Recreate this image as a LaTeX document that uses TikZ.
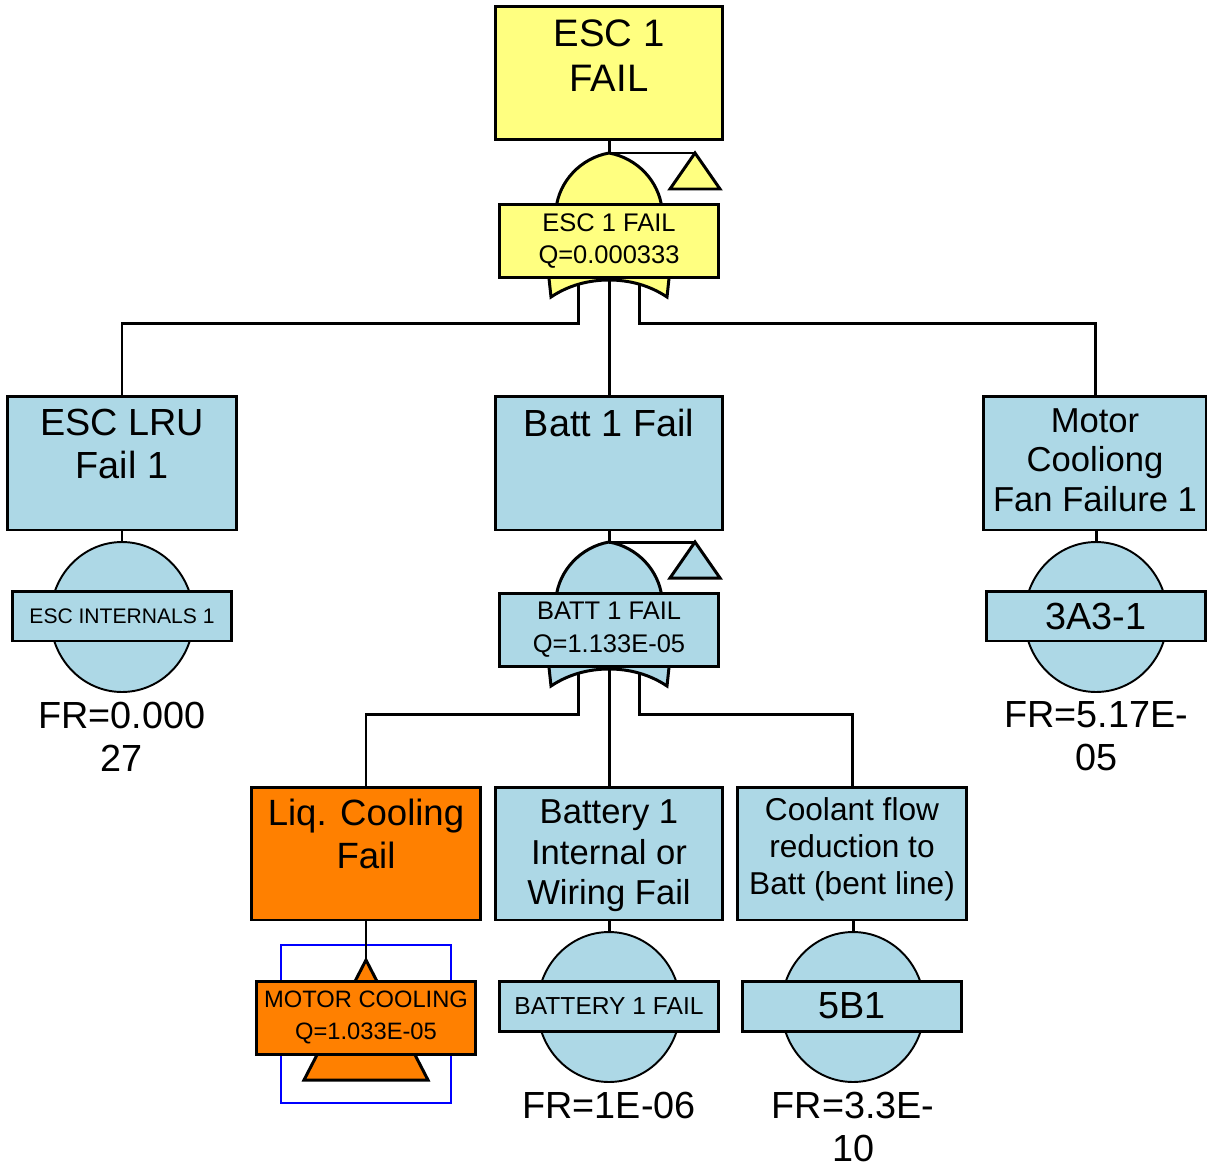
\documentclass[tikz,border=0pt]{standalone}
\usepackage{fontspec}
\setmainfont{Liberation Sans}
\usetikzlibrary{positioning,calc,shapes.geometric}
\definecolor{ftyellow}{HTML}{FFFF80}
\definecolor{ftblue}{HTML}{ADD8E6}
\definecolor{ftorange}{HTML}{FF8000}

\begin{document}
\begin{tikzpicture}[x=0.02cm,y=-0.02cm,line width=1.7pt,
  every node/.style={font=\fontsize{21.5}{24.5}\selectfont,align=center,inner sep=0pt},
  evbox/.style={draw,minimum width=4.56cm,minimum height=2.68cm},
  gatebox/.style={draw,minimum width=4.4cm,minimum height=1.46cm,font=\fontsize{14.5}{18.7}\selectfont},
  bebox/.style={draw,fill=ftblue,minimum width=4.4cm,minimum height=1cm},
  becirc/.style={ellipse,draw,fill=ftblue,line width=1.1pt,minimum width=2.86cm,minimum height=3cm}]
\useasboundingbox (0,0) rectangle (1207,1167);

% gates
\coordinate (g1) at (609,203);
\coordinate (g2) at (609,592);
\foreach \g/\col in {g1/ftyellow,g2/ftblue}{
  \filldraw[fill=\col] ($(\g)+(-53,6)$) .. controls ($(\g)+(-50,-22)$) and ($(\g)+(-28,-45)$) .. ($(\g)+(0,-50)$)
    .. controls ($(\g)+(28,-45)$) and ($(\g)+(50,-22)$) .. ($(\g)+(53,6)$);
  \filldraw[fill=\col] ($(\g)+(-61,66)$) -- ($(\g)+(-58,94)$) .. controls ($(\g)+(-40,82)$) and ($(\g)+(-20,77)$) .. ($(\g)+(0,77)$)
    .. controls ($(\g)+(20,77)$) and ($(\g)+(40,82)$) .. ($(\g)+(58,94)$) -- ($(\g)+(61,66)$);
  \draw ($(\g)+(0,-50)$) -- ($(\g)+(86,-50)$);
  \filldraw[fill=\col] ($(\g)+(86,-50)$) -- ($(\g)+(111,-14)$) -- ($(\g)+(61,-14)$) -- cycle;
}

% top event
\node[evbox,fill=ftyellow] (top) at (609,73) {};
\node[below=0.27cm of top.north,font=\fontsize{21.8}{25.5}\selectfont] (toptxt) {ESC 1\\FAIL};
\node[gatebox,fill=ftyellow,below=0pt of g1] (topq) {ESC 1 FAIL\\Q=0.000333};

% second level
\node[evbox,fill=ftblue,minimum width=4.6cm] (esclru) at (122,463) {};
\node[below=0.27cm of esclru.north] (esclrutxt) {ESC LRU\\Fail 1};
\node[evbox,fill=ftblue] (batt) at (609,463) {};
\node[below=0.27cm of batt.north] (batttxt) {Batt 1 Fail};
\node[evbox,fill=ftblue,minimum width=4.48cm] (motor) at (1095,463) {};
\node[below=0.25cm of motor.north,font=\fontsize{19.7}{22.4}\selectfont] (motortxt) {Motor\\Cooliong\\Fan Failure 1};
\node[gatebox,fill=ftblue,below=0pt of g2] (battq) {BATT 1 FAIL\\Q=1.133E-05};

\node[becirc] (esc1c) at (122,617) {};
\node[bebox,font=\fontsize{12}{14}\selectfont] (esc1b) at (122,616) {ESC INTERNALS 1};
\node[below=0.15cm of esc1c] (esc1fr) {FR=0.000\\27};
\node[becirc] (mot1c) at (1096,617) {};
\node[bebox] (mot1b) at (1096,616) {3A3-1};
\node[below=0.15cm of mot1c] (mot1fr) {FR=5.17E-\\05};

% third level
\node[evbox,fill=ftorange,minimum width=4.6cm,minimum height=2.66cm] (liq) at (366,853.5) {};
\node[below=0.24cm of liq.north,font=\fontsize{20.8}{24.4}\selectfont] (liqtxt) {Liq. Cooling\\Fail};
\node[evbox,fill=ftblue,minimum height=2.66cm] (batint) at (609,853.5) {};
\node[below=0.25cm of batint.north,font=\fontsize{19.7}{23.2}\selectfont] (batinttxt) {Battery 1\\Internal or\\Wiring Fail};
\node[evbox,fill=ftblue,minimum width=4.6cm,minimum height=2.66cm] (coolant) at (852,853.5) {};
\node[below=0.21cm of coolant.north,font=\fontsize{18}{21}\selectfont] (coolanttxt) {Coolant flow\\reduction to\\Batt (bent line)};

% transfer in
\draw[blue,line width=0.6pt] (281,945) rectangle (451,1103);
\coordinate (mctop) at (366,960);
\filldraw[fill=ftorange] (mctop) -- (428,1080) -- (304,1080) -- cycle;
\node[gatebox,fill=ftorange,font=\fontsize{13.5}{18.2}\selectfont] (mcq) at (366,1017.5) {MOTOR COOLING\\Q=1.033E-05};

\node[becirc] (bat1c) at (609,1007) {};
\node[bebox,font=\fontsize{14}{16}\selectfont] (bat1b) at (609,1006) {BATTERY 1 FAIL};
\node[below=0.15cm of bat1c] (bat1fr) {FR=1E-06};
\node[becirc] (fiveb1c) at (853,1007) {};
\node[bebox] (fiveb1b) at (852,1006) {5B1};
\node[below=0.15cm of fiveb1c] (fiveb1fr) {FR=3.3E-\\10};

% connectors
\draw (top.south) -- ($(g1)+(0,-50)$);
\draw ($(g1)+(-31,80)$) -- ++(0,40) -| (esclru.north);
\draw ($(g1)+(0,77)$) -- (batt.north);
\draw ($(g1)+(30,80)$) -- ++(0,40) -| (motor.north);
\draw (esclru.south) -- (esc1c.north);
\draw (mot1c.north |- motor.south) -- (mot1c.north);
\draw (batt.south) -- ($(g2)+(0,-50)$);
\draw ($(g2)+(-31,80)$) -- ++(0,42) -| (liq.north);
\draw ($(g2)+(0,77)$) -- (batint.north);
\draw ($(g2)+(30,80)$) -- ++(0,42) -| (coolant.north);
\draw (liq.south) -- (mctop);
\draw (batint.south) -- (bat1c.north);
\draw (fiveb1c.north |- coolant.south) -- (fiveb1c.north);
\end{tikzpicture}
\end{document}
